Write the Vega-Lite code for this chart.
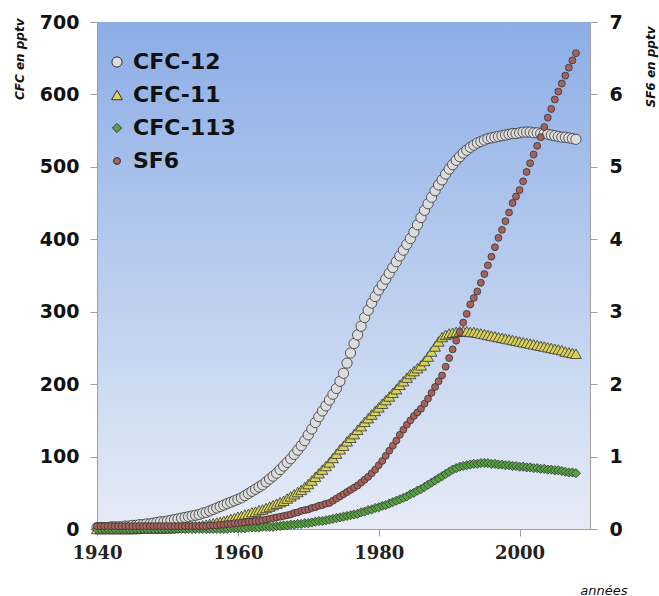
{
"$schema":"https://vega.github.io/schema/vega-lite/v6.json",
"width":493,"height":507,
"autosize":{"type":"none"},
"padding":{"left":97,"top":22,"right":69,"bottom":67},
"background":"white",
"config":{
 "view":{"stroke":null,"fill":{"gradient":"linear","x1":0,"y1":0,"x2":0,"y2":1,"stops":[{"offset":0,"color":"#8cade6"},{"offset":1,"color":"#e6ecf6"}]}},
 "axis":{"grid":false,"domainColor":"#a0a0a0","tickColor":"#a0a0a0","labelColor":"#111"}
},
"datasets":{"d":[
{"t":1940,"s":"CFC-12","v":2},{"t":1940.5,"s":"CFC-12","v":2},{"t":1941,"s":"CFC-12","v":2},{"t":1941.5,"s":"CFC-12","v":2},{"t":1942,"s":"CFC-12","v":3},{"t":1942.5,"s":"CFC-12","v":3},{"t":1943,"s":"CFC-12","v":3},{"t":1943.5,"s":"CFC-12","v":3},{"t":1944,"s":"CFC-12","v":4},{"t":1944.5,"s":"CFC-12","v":4},
{"t":1945,"s":"CFC-12","v":5},{"t":1945.5,"s":"CFC-12","v":5},{"t":1946,"s":"CFC-12","v":6},{"t":1946.5,"s":"CFC-12","v":6},{"t":1947,"s":"CFC-12","v":7},{"t":1947.5,"s":"CFC-12","v":7},{"t":1948,"s":"CFC-12","v":8},{"t":1948.5,"s":"CFC-12","v":9},{"t":1949,"s":"CFC-12","v":10},{"t":1949.5,"s":"CFC-12","v":10},
{"t":1950,"s":"CFC-12","v":11},{"t":1950.5,"s":"CFC-12","v":12},{"t":1951,"s":"CFC-12","v":13},{"t":1951.5,"s":"CFC-12","v":14},{"t":1952,"s":"CFC-12","v":15},{"t":1952.5,"s":"CFC-12","v":16},{"t":1953,"s":"CFC-12","v":17},{"t":1953.5,"s":"CFC-12","v":18},{"t":1954,"s":"CFC-12","v":19},{"t":1954.5,"s":"CFC-12","v":20},
{"t":1955,"s":"CFC-12","v":22},{"t":1955.5,"s":"CFC-12","v":23},{"t":1956,"s":"CFC-12","v":25},{"t":1956.5,"s":"CFC-12","v":27},{"t":1957,"s":"CFC-12","v":29},{"t":1957.5,"s":"CFC-12","v":31},{"t":1958,"s":"CFC-12","v":33},{"t":1958.5,"s":"CFC-12","v":35},{"t":1959,"s":"CFC-12","v":37},{"t":1959.5,"s":"CFC-12","v":39},
{"t":1960,"s":"CFC-12","v":41},{"t":1960.5,"s":"CFC-12","v":43},{"t":1961,"s":"CFC-12","v":46},{"t":1961.5,"s":"CFC-12","v":49},{"t":1962,"s":"CFC-12","v":52},{"t":1962.5,"s":"CFC-12","v":55},{"t":1963,"s":"CFC-12","v":58},{"t":1963.5,"s":"CFC-12","v":61},{"t":1964,"s":"CFC-12","v":65},{"t":1964.5,"s":"CFC-12","v":69},
{"t":1965,"s":"CFC-12","v":73},{"t":1965.5,"s":"CFC-12","v":77},{"t":1966,"s":"CFC-12","v":82},{"t":1966.5,"s":"CFC-12","v":87},{"t":1967,"s":"CFC-12","v":92},{"t":1967.5,"s":"CFC-12","v":97},{"t":1968,"s":"CFC-12","v":103},{"t":1968.5,"s":"CFC-12","v":109},{"t":1969,"s":"CFC-12","v":115},{"t":1969.5,"s":"CFC-12","v":122},
{"t":1970,"s":"CFC-12","v":130},{"t":1970.5,"s":"CFC-12","v":138},{"t":1971,"s":"CFC-12","v":147},{"t":1971.5,"s":"CFC-12","v":155},{"t":1972,"s":"CFC-12","v":163},{"t":1972.5,"s":"CFC-12","v":170},{"t":1973,"s":"CFC-12","v":178},{"t":1973.5,"s":"CFC-12","v":186},{"t":1974,"s":"CFC-12","v":194},{"t":1974.5,"s":"CFC-12","v":204},
{"t":1975,"s":"CFC-12","v":215},{"t":1975.5,"s":"CFC-12","v":229},{"t":1976,"s":"CFC-12","v":243},{"t":1976.5,"s":"CFC-12","v":256},{"t":1977,"s":"CFC-12","v":268},{"t":1977.5,"s":"CFC-12","v":280},{"t":1978,"s":"CFC-12","v":292},{"t":1978.5,"s":"CFC-12","v":302},{"t":1979,"s":"CFC-12","v":312},{"t":1979.5,"s":"CFC-12","v":321},
{"t":1980,"s":"CFC-12","v":330},{"t":1980.5,"s":"CFC-12","v":337},{"t":1981,"s":"CFC-12","v":345},{"t":1981.5,"s":"CFC-12","v":353},{"t":1982,"s":"CFC-12","v":361},{"t":1982.5,"s":"CFC-12","v":369},{"t":1983,"s":"CFC-12","v":377},{"t":1983.5,"s":"CFC-12","v":385},{"t":1984,"s":"CFC-12","v":393},{"t":1984.5,"s":"CFC-12","v":401},
{"t":1985,"s":"CFC-12","v":410},{"t":1985.5,"s":"CFC-12","v":420},{"t":1986,"s":"CFC-12","v":430},{"t":1986.5,"s":"CFC-12","v":440},{"t":1987,"s":"CFC-12","v":449},{"t":1987.5,"s":"CFC-12","v":458},{"t":1988,"s":"CFC-12","v":467},{"t":1988.5,"s":"CFC-12","v":475},{"t":1989,"s":"CFC-12","v":482},{"t":1989.5,"s":"CFC-12","v":490},
{"t":1990,"s":"CFC-12","v":497},{"t":1990.5,"s":"CFC-12","v":503},{"t":1991,"s":"CFC-12","v":509},{"t":1991.5,"s":"CFC-12","v":514},{"t":1992,"s":"CFC-12","v":519},{"t":1992.5,"s":"CFC-12","v":523},{"t":1993,"s":"CFC-12","v":527},{"t":1993.5,"s":"CFC-12","v":530},{"t":1994,"s":"CFC-12","v":533},{"t":1994.5,"s":"CFC-12","v":535},
{"t":1995,"s":"CFC-12","v":537},{"t":1995.5,"s":"CFC-12","v":539},{"t":1996,"s":"CFC-12","v":540},{"t":1996.5,"s":"CFC-12","v":541},{"t":1997,"s":"CFC-12","v":542},{"t":1997.5,"s":"CFC-12","v":543},{"t":1998,"s":"CFC-12","v":544},{"t":1998.5,"s":"CFC-12","v":545},{"t":1999,"s":"CFC-12","v":546},{"t":1999.5,"s":"CFC-12","v":546},
{"t":2000,"s":"CFC-12","v":547},{"t":2000.5,"s":"CFC-12","v":548},{"t":2001,"s":"CFC-12","v":548},{"t":2001.5,"s":"CFC-12","v":548},{"t":2002,"s":"CFC-12","v":547},{"t":2002.5,"s":"CFC-12","v":547},{"t":2003,"s":"CFC-12","v":546},{"t":2003.5,"s":"CFC-12","v":546},{"t":2004,"s":"CFC-12","v":545},{"t":2004.5,"s":"CFC-12","v":544},
{"t":2005,"s":"CFC-12","v":543},{"t":2005.5,"s":"CFC-12","v":542},{"t":2006,"s":"CFC-12","v":541},{"t":2006.5,"s":"CFC-12","v":541},{"t":2007,"s":"CFC-12","v":540},{"t":2007.5,"s":"CFC-12","v":539},{"t":2008,"s":"CFC-12","v":538},
{"t":1940,"s":"CFC-11","v":0},{"t":1940.5,"s":"CFC-11","v":0},{"t":1941,"s":"CFC-11","v":0},{"t":1941.5,"s":"CFC-11","v":0},{"t":1942,"s":"CFC-11","v":0},{"t":1942.5,"s":"CFC-11","v":0},{"t":1943,"s":"CFC-11","v":0},{"t":1943.5,"s":"CFC-11","v":0},{"t":1944,"s":"CFC-11","v":0},{"t":1944.5,"s":"CFC-11","v":0},
{"t":1945,"s":"CFC-11","v":0},{"t":1945.5,"s":"CFC-11","v":0},{"t":1946,"s":"CFC-11","v":1},{"t":1946.5,"s":"CFC-11","v":1},{"t":1947,"s":"CFC-11","v":1},{"t":1947.5,"s":"CFC-11","v":1},{"t":1948,"s":"CFC-11","v":1},{"t":1948.5,"s":"CFC-11","v":1},{"t":1949,"s":"CFC-11","v":1},{"t":1949.5,"s":"CFC-11","v":1},
{"t":1950,"s":"CFC-11","v":1},{"t":1950.5,"s":"CFC-11","v":1},{"t":1951,"s":"CFC-11","v":2},{"t":1951.5,"s":"CFC-11","v":2},{"t":1952,"s":"CFC-11","v":2},{"t":1952.5,"s":"CFC-11","v":3},{"t":1953,"s":"CFC-11","v":3},{"t":1953.5,"s":"CFC-11","v":3},{"t":1954,"s":"CFC-11","v":4},{"t":1954.5,"s":"CFC-11","v":4},
{"t":1955,"s":"CFC-11","v":5},{"t":1955.5,"s":"CFC-11","v":6},{"t":1956,"s":"CFC-11","v":7},{"t":1956.5,"s":"CFC-11","v":8},{"t":1957,"s":"CFC-11","v":9},{"t":1957.5,"s":"CFC-11","v":10},{"t":1958,"s":"CFC-11","v":11},{"t":1958.5,"s":"CFC-11","v":12},{"t":1959,"s":"CFC-11","v":14},{"t":1959.5,"s":"CFC-11","v":15},
{"t":1960,"s":"CFC-11","v":17},{"t":1960.5,"s":"CFC-11","v":18},{"t":1961,"s":"CFC-11","v":20},{"t":1961.5,"s":"CFC-11","v":21},{"t":1962,"s":"CFC-11","v":23},{"t":1962.5,"s":"CFC-11","v":24},{"t":1963,"s":"CFC-11","v":26},{"t":1963.5,"s":"CFC-11","v":27},{"t":1964,"s":"CFC-11","v":29},{"t":1964.5,"s":"CFC-11","v":31},
{"t":1965,"s":"CFC-11","v":33},{"t":1965.5,"s":"CFC-11","v":35},{"t":1966,"s":"CFC-11","v":37},{"t":1966.5,"s":"CFC-11","v":39},{"t":1967,"s":"CFC-11","v":42},{"t":1967.5,"s":"CFC-11","v":45},{"t":1968,"s":"CFC-11","v":48},{"t":1968.5,"s":"CFC-11","v":51},{"t":1969,"s":"CFC-11","v":54},{"t":1969.5,"s":"CFC-11","v":58},
{"t":1970,"s":"CFC-11","v":62},{"t":1970.5,"s":"CFC-11","v":67},{"t":1971,"s":"CFC-11","v":72},{"t":1971.5,"s":"CFC-11","v":77},{"t":1972,"s":"CFC-11","v":82},{"t":1972.5,"s":"CFC-11","v":87},{"t":1973,"s":"CFC-11","v":92},{"t":1973.5,"s":"CFC-11","v":98},{"t":1974,"s":"CFC-11","v":104},{"t":1974.5,"s":"CFC-11","v":110},
{"t":1975,"s":"CFC-11","v":115},{"t":1975.5,"s":"CFC-11","v":121},{"t":1976,"s":"CFC-11","v":126},{"t":1976.5,"s":"CFC-11","v":131},{"t":1977,"s":"CFC-11","v":137},{"t":1977.5,"s":"CFC-11","v":142},{"t":1978,"s":"CFC-11","v":148},{"t":1978.5,"s":"CFC-11","v":153},{"t":1979,"s":"CFC-11","v":158},{"t":1979.5,"s":"CFC-11","v":163},
{"t":1980,"s":"CFC-11","v":168},{"t":1980.5,"s":"CFC-11","v":173},{"t":1981,"s":"CFC-11","v":178},{"t":1981.5,"s":"CFC-11","v":183},{"t":1982,"s":"CFC-11","v":188},{"t":1982.5,"s":"CFC-11","v":193},{"t":1983,"s":"CFC-11","v":199},{"t":1983.5,"s":"CFC-11","v":204},{"t":1984,"s":"CFC-11","v":209},{"t":1984.5,"s":"CFC-11","v":214},
{"t":1985,"s":"CFC-11","v":218},{"t":1985.5,"s":"CFC-11","v":222},{"t":1986,"s":"CFC-11","v":226},{"t":1986.5,"s":"CFC-11","v":232},{"t":1987,"s":"CFC-11","v":238},{"t":1987.5,"s":"CFC-11","v":245},{"t":1988,"s":"CFC-11","v":252},{"t":1988.5,"s":"CFC-11","v":259},{"t":1989,"s":"CFC-11","v":265},{"t":1989.5,"s":"CFC-11","v":268},
{"t":1990,"s":"CFC-11","v":270},{"t":1990.5,"s":"CFC-11","v":271},{"t":1991,"s":"CFC-11","v":272},{"t":1991.5,"s":"CFC-11","v":273},{"t":1992,"s":"CFC-11","v":273},{"t":1992.5,"s":"CFC-11","v":273},{"t":1993,"s":"CFC-11","v":272},{"t":1993.5,"s":"CFC-11","v":272},{"t":1994,"s":"CFC-11","v":271},{"t":1994.5,"s":"CFC-11","v":270},
{"t":1995,"s":"CFC-11","v":269},{"t":1995.5,"s":"CFC-11","v":268},{"t":1996,"s":"CFC-11","v":267},{"t":1996.5,"s":"CFC-11","v":266},{"t":1997,"s":"CFC-11","v":265},{"t":1997.5,"s":"CFC-11","v":264},{"t":1998,"s":"CFC-11","v":263},{"t":1998.5,"s":"CFC-11","v":262},{"t":1999,"s":"CFC-11","v":261},{"t":1999.5,"s":"CFC-11","v":260},
{"t":2000,"s":"CFC-11","v":259},{"t":2000.5,"s":"CFC-11","v":258},{"t":2001,"s":"CFC-11","v":257},{"t":2001.5,"s":"CFC-11","v":256},{"t":2002,"s":"CFC-11","v":255},{"t":2002.5,"s":"CFC-11","v":254},{"t":2003,"s":"CFC-11","v":253},{"t":2003.5,"s":"CFC-11","v":252},{"t":2004,"s":"CFC-11","v":251},{"t":2004.5,"s":"CFC-11","v":250},
{"t":2005,"s":"CFC-11","v":249},{"t":2005.5,"s":"CFC-11","v":248},{"t":2006,"s":"CFC-11","v":247},{"t":2006.5,"s":"CFC-11","v":245},{"t":2007,"s":"CFC-11","v":244},{"t":2007.5,"s":"CFC-11","v":243},{"t":2008,"s":"CFC-11","v":242},
{"t":1940,"s":"CFC-113","v":0},{"t":1940.5,"s":"CFC-113","v":0},{"t":1941,"s":"CFC-113","v":0},{"t":1941.5,"s":"CFC-113","v":0},{"t":1942,"s":"CFC-113","v":0},{"t":1942.5,"s":"CFC-113","v":0},{"t":1943,"s":"CFC-113","v":0},{"t":1943.5,"s":"CFC-113","v":0},{"t":1944,"s":"CFC-113","v":0},{"t":1944.5,"s":"CFC-113","v":0},
{"t":1945,"s":"CFC-113","v":0},{"t":1945.5,"s":"CFC-113","v":0},{"t":1946,"s":"CFC-113","v":0},{"t":1946.5,"s":"CFC-113","v":0},{"t":1947,"s":"CFC-113","v":0},{"t":1947.5,"s":"CFC-113","v":0},{"t":1948,"s":"CFC-113","v":0},{"t":1948.5,"s":"CFC-113","v":0},{"t":1949,"s":"CFC-113","v":0},{"t":1949.5,"s":"CFC-113","v":0},
{"t":1950,"s":"CFC-113","v":0},{"t":1950.5,"s":"CFC-113","v":0},{"t":1951,"s":"CFC-113","v":0},{"t":1951.5,"s":"CFC-113","v":0},{"t":1952,"s":"CFC-113","v":0},{"t":1952.5,"s":"CFC-113","v":0},{"t":1953,"s":"CFC-113","v":0},{"t":1953.5,"s":"CFC-113","v":0},{"t":1954,"s":"CFC-113","v":0},{"t":1954.5,"s":"CFC-113","v":0},
{"t":1955,"s":"CFC-113","v":0},{"t":1955.5,"s":"CFC-113","v":0},{"t":1956,"s":"CFC-113","v":0},{"t":1956.5,"s":"CFC-113","v":0},{"t":1957,"s":"CFC-113","v":0},{"t":1957.5,"s":"CFC-113","v":0},{"t":1958,"s":"CFC-113","v":0},{"t":1958.5,"s":"CFC-113","v":0},{"t":1959,"s":"CFC-113","v":1},{"t":1959.5,"s":"CFC-113","v":1},
{"t":1960,"s":"CFC-113","v":1},{"t":1960.5,"s":"CFC-113","v":1},{"t":1961,"s":"CFC-113","v":1},{"t":1961.5,"s":"CFC-113","v":2},{"t":1962,"s":"CFC-113","v":2},{"t":1962.5,"s":"CFC-113","v":2},{"t":1963,"s":"CFC-113","v":2},{"t":1963.5,"s":"CFC-113","v":3},{"t":1964,"s":"CFC-113","v":3},{"t":1964.5,"s":"CFC-113","v":3},
{"t":1965,"s":"CFC-113","v":3},{"t":1965.5,"s":"CFC-113","v":4},{"t":1966,"s":"CFC-113","v":4},{"t":1966.5,"s":"CFC-113","v":5},{"t":1967,"s":"CFC-113","v":5},{"t":1967.5,"s":"CFC-113","v":6},{"t":1968,"s":"CFC-113","v":6},{"t":1968.5,"s":"CFC-113","v":7},{"t":1969,"s":"CFC-113","v":7},{"t":1969.5,"s":"CFC-113","v":8},
{"t":1970,"s":"CFC-113","v":8},{"t":1970.5,"s":"CFC-113","v":9},{"t":1971,"s":"CFC-113","v":10},{"t":1971.5,"s":"CFC-113","v":11},{"t":1972,"s":"CFC-113","v":11},{"t":1972.5,"s":"CFC-113","v":12},{"t":1973,"s":"CFC-113","v":13},{"t":1973.5,"s":"CFC-113","v":14},{"t":1974,"s":"CFC-113","v":15},{"t":1974.5,"s":"CFC-113","v":16},
{"t":1975,"s":"CFC-113","v":17},{"t":1975.5,"s":"CFC-113","v":18},{"t":1976,"s":"CFC-113","v":19},{"t":1976.5,"s":"CFC-113","v":20},{"t":1977,"s":"CFC-113","v":21},{"t":1977.5,"s":"CFC-113","v":23},{"t":1978,"s":"CFC-113","v":24},{"t":1978.5,"s":"CFC-113","v":26},{"t":1979,"s":"CFC-113","v":27},{"t":1979.5,"s":"CFC-113","v":29},
{"t":1980,"s":"CFC-113","v":30},{"t":1980.5,"s":"CFC-113","v":32},{"t":1981,"s":"CFC-113","v":33},{"t":1981.5,"s":"CFC-113","v":35},{"t":1982,"s":"CFC-113","v":37},{"t":1982.5,"s":"CFC-113","v":39},{"t":1983,"s":"CFC-113","v":41},{"t":1983.5,"s":"CFC-113","v":43},{"t":1984,"s":"CFC-113","v":45},{"t":1984.5,"s":"CFC-113","v":48},
{"t":1985,"s":"CFC-113","v":50},{"t":1985.5,"s":"CFC-113","v":53},{"t":1986,"s":"CFC-113","v":55},{"t":1986.5,"s":"CFC-113","v":58},{"t":1987,"s":"CFC-113","v":61},{"t":1987.5,"s":"CFC-113","v":64},{"t":1988,"s":"CFC-113","v":67},{"t":1988.5,"s":"CFC-113","v":70},{"t":1989,"s":"CFC-113","v":73},{"t":1989.5,"s":"CFC-113","v":76},
{"t":1990,"s":"CFC-113","v":79},{"t":1990.5,"s":"CFC-113","v":82},{"t":1991,"s":"CFC-113","v":84},{"t":1991.5,"s":"CFC-113","v":86},{"t":1992,"s":"CFC-113","v":87},{"t":1992.5,"s":"CFC-113","v":88},{"t":1993,"s":"CFC-113","v":89},{"t":1993.5,"s":"CFC-113","v":90},{"t":1994,"s":"CFC-113","v":90},{"t":1994.5,"s":"CFC-113","v":91},
{"t":1995,"s":"CFC-113","v":91},{"t":1995.5,"s":"CFC-113","v":91},{"t":1996,"s":"CFC-113","v":90},{"t":1996.5,"s":"CFC-113","v":90},{"t":1997,"s":"CFC-113","v":89},{"t":1997.5,"s":"CFC-113","v":89},{"t":1998,"s":"CFC-113","v":88},{"t":1998.5,"s":"CFC-113","v":88},{"t":1999,"s":"CFC-113","v":87},{"t":1999.5,"s":"CFC-113","v":87},
{"t":2000,"s":"CFC-113","v":86},{"t":2000.5,"s":"CFC-113","v":86},{"t":2001,"s":"CFC-113","v":85},{"t":2001.5,"s":"CFC-113","v":85},{"t":2002,"s":"CFC-113","v":84},{"t":2002.5,"s":"CFC-113","v":84},{"t":2003,"s":"CFC-113","v":83},{"t":2003.5,"s":"CFC-113","v":83},{"t":2004,"s":"CFC-113","v":82},{"t":2004.5,"s":"CFC-113","v":82},
{"t":2005,"s":"CFC-113","v":81},{"t":2005.5,"s":"CFC-113","v":81},{"t":2006,"s":"CFC-113","v":80},{"t":2006.5,"s":"CFC-113","v":79},{"t":2007,"s":"CFC-113","v":78},{"t":2007.5,"s":"CFC-113","v":78},{"t":2008,"s":"CFC-113","v":77},
{"t":1940,"s":"SF6","v":0.04},{"t":1940.5,"s":"SF6","v":0.04},{"t":1941,"s":"SF6","v":0.04},{"t":1941.5,"s":"SF6","v":0.04},{"t":1942,"s":"SF6","v":0.04},{"t":1942.5,"s":"SF6","v":0.04},{"t":1943,"s":"SF6","v":0.04},{"t":1943.5,"s":"SF6","v":0.04},{"t":1944,"s":"SF6","v":0.04},{"t":1944.5,"s":"SF6","v":0.04},
{"t":1945,"s":"SF6","v":0.04},{"t":1945.5,"s":"SF6","v":0.04},{"t":1946,"s":"SF6","v":0.04},{"t":1946.5,"s":"SF6","v":0.04},{"t":1947,"s":"SF6","v":0.04},{"t":1947.5,"s":"SF6","v":0.04},{"t":1948,"s":"SF6","v":0.04},{"t":1948.5,"s":"SF6","v":0.04},{"t":1949,"s":"SF6","v":0.04},{"t":1949.5,"s":"SF6","v":0.04},
{"t":1950,"s":"SF6","v":0.04},{"t":1950.5,"s":"SF6","v":0.04},{"t":1951,"s":"SF6","v":0.04},{"t":1951.5,"s":"SF6","v":0.04},{"t":1952,"s":"SF6","v":0.04},{"t":1952.5,"s":"SF6","v":0.04},{"t":1953,"s":"SF6","v":0.04},{"t":1953.5,"s":"SF6","v":0.04},{"t":1954,"s":"SF6","v":0.04},{"t":1954.5,"s":"SF6","v":0.04},
{"t":1955,"s":"SF6","v":0.04},{"t":1955.5,"s":"SF6","v":0.04},{"t":1956,"s":"SF6","v":0.05},{"t":1956.5,"s":"SF6","v":0.05},{"t":1957,"s":"SF6","v":0.05},{"t":1957.5,"s":"SF6","v":0.06},{"t":1958,"s":"SF6","v":0.06},{"t":1958.5,"s":"SF6","v":0.07},{"t":1959,"s":"SF6","v":0.07},{"t":1959.5,"s":"SF6","v":0.08},
{"t":1960,"s":"SF6","v":0.08},{"t":1960.5,"s":"SF6","v":0.09},{"t":1961,"s":"SF6","v":0.09},{"t":1961.5,"s":"SF6","v":0.1},{"t":1962,"s":"SF6","v":0.1},{"t":1962.5,"s":"SF6","v":0.11},{"t":1963,"s":"SF6","v":0.11},{"t":1963.5,"s":"SF6","v":0.12},{"t":1964,"s":"SF6","v":0.13},{"t":1964.5,"s":"SF6","v":0.14},
{"t":1965,"s":"SF6","v":0.15},{"t":1965.5,"s":"SF6","v":0.16},{"t":1966,"s":"SF6","v":0.17},{"t":1966.5,"s":"SF6","v":0.18},{"t":1967,"s":"SF6","v":0.19},{"t":1967.5,"s":"SF6","v":0.2},{"t":1968,"s":"SF6","v":0.22},{"t":1968.5,"s":"SF6","v":0.23},{"t":1969,"s":"SF6","v":0.25},{"t":1969.5,"s":"SF6","v":0.26},
{"t":1970,"s":"SF6","v":0.27},{"t":1970.5,"s":"SF6","v":0.29},{"t":1971,"s":"SF6","v":0.3},{"t":1971.5,"s":"SF6","v":0.32},{"t":1972,"s":"SF6","v":0.33},{"t":1972.5,"s":"SF6","v":0.35},{"t":1973,"s":"SF6","v":0.36},{"t":1973.5,"s":"SF6","v":0.39},{"t":1974,"s":"SF6","v":0.42},{"t":1974.5,"s":"SF6","v":0.45},
{"t":1975,"s":"SF6","v":0.48},{"t":1975.5,"s":"SF6","v":0.51},{"t":1976,"s":"SF6","v":0.54},{"t":1976.5,"s":"SF6","v":0.57},{"t":1977,"s":"SF6","v":0.6},{"t":1977.5,"s":"SF6","v":0.64},{"t":1978,"s":"SF6","v":0.68},{"t":1978.5,"s":"SF6","v":0.72},{"t":1979,"s":"SF6","v":0.77},{"t":1979.5,"s":"SF6","v":0.82},
{"t":1980,"s":"SF6","v":0.88},{"t":1980.5,"s":"SF6","v":0.94},{"t":1981,"s":"SF6","v":1.01},{"t":1981.5,"s":"SF6","v":1.08},{"t":1982,"s":"SF6","v":1.15},{"t":1982.5,"s":"SF6","v":1.22},{"t":1983,"s":"SF6","v":1.3},{"t":1983.5,"s":"SF6","v":1.37},{"t":1984,"s":"SF6","v":1.44},{"t":1984.5,"s":"SF6","v":1.5},
{"t":1985,"s":"SF6","v":1.56},{"t":1985.5,"s":"SF6","v":1.61},{"t":1986,"s":"SF6","v":1.66},{"t":1986.5,"s":"SF6","v":1.73},{"t":1987,"s":"SF6","v":1.8},{"t":1987.5,"s":"SF6","v":1.88},{"t":1988,"s":"SF6","v":1.96},{"t":1988.5,"s":"SF6","v":2.04},{"t":1989,"s":"SF6","v":2.12},{"t":1989.5,"s":"SF6","v":2.24},
{"t":1990,"s":"SF6","v":2.36},{"t":1990.5,"s":"SF6","v":2.48},{"t":1991,"s":"SF6","v":2.6},{"t":1991.5,"s":"SF6","v":2.72},{"t":1992,"s":"SF6","v":2.85},{"t":1992.5,"s":"SF6","v":2.97},{"t":1993,"s":"SF6","v":3.1},{"t":1993.5,"s":"SF6","v":3.19},{"t":1994,"s":"SF6","v":3.28},{"t":1994.5,"s":"SF6","v":3.4},
{"t":1995,"s":"SF6","v":3.52},{"t":1995.5,"s":"SF6","v":3.64},{"t":1996,"s":"SF6","v":3.76},{"t":1996.5,"s":"SF6","v":3.89},{"t":1997,"s":"SF6","v":4.02},{"t":1997.5,"s":"SF6","v":4.13},{"t":1998,"s":"SF6","v":4.25},{"t":1998.5,"s":"SF6","v":4.37},{"t":1999,"s":"SF6","v":4.5},{"t":1999.5,"s":"SF6","v":4.59},
{"t":2000,"s":"SF6","v":4.68},{"t":2000.5,"s":"SF6","v":4.8},{"t":2001,"s":"SF6","v":4.93},{"t":2001.5,"s":"SF6","v":5.05},{"t":2002,"s":"SF6","v":5.17},{"t":2002.5,"s":"SF6","v":5.29},{"t":2003,"s":"SF6","v":5.41},{"t":2003.5,"s":"SF6","v":5.55},{"t":2004,"s":"SF6","v":5.68},{"t":2004.5,"s":"SF6","v":5.8},
{"t":2005,"s":"SF6","v":5.93},{"t":2005.5,"s":"SF6","v":6.04},{"t":2006,"s":"SF6","v":6.15},{"t":2006.5,"s":"SF6","v":6.26},{"t":2007,"s":"SF6","v":6.37},{"t":2007.5,"s":"SF6","v":6.47},{"t":2008,"s":"SF6","v":6.57}
]},
"data":{"name":"d"},
"encoding":{
 "x":{"field":"t","type":"quantitative","scale":{"domain":[1940,2010],"nice":false,"zero":false},
  "axis":{"values":[1940,1960,1980,2000],"format":"d","labelFlush":false,"labelFont":"DejaVu Serif","labelFontWeight":"bold","labelFontSize":18,"labelColor":"#222","tickSize":7,"labelPadding":8,
   "title":"années","titleFont":"DejaVu Sans","titleFontStyle":"italic","titleFontWeight":"normal","titleFontSize":13,"titleColor":"#111","titleAlign":"right","titleBaseline":"alphabetic","titleX":530,"titleY":65}},
 "color":{"field":"s","type":"nominal","scale":{"domain":["CFC-12","CFC-11","CFC-113","SF6"],"range":["#dcdcdc","#d8d25a","#57a043","#a8615a"]},
  "legend":{"title":null,"orient":"none","legendX":9,"legendY":29,"labelFont":"DejaVu Sans","labelFontWeight":"bold","labelFontSize":22,"labelColor":"#111","symbolSize":100,"rowPadding":11,"labelOffset":5,"symbolStrokeColor":"#333","symbolStrokeWidth":1}},
 "shape":{"field":"s","type":"nominal","scale":{"domain":["CFC-12","CFC-11","CFC-113","SF6"],"range":["circle","triangle-up","diamond","circle"]},
  "legend":{"title":null,"orient":"none","legendX":9,"legendY":29,"labelFont":"DejaVu Sans","labelFontWeight":"bold","labelFontSize":22,"labelColor":"#111","symbolSize":100,"rowPadding":11,"labelOffset":5,"symbolStrokeColor":"#333","symbolStrokeWidth":1}},
 "size":{"field":"s","type":"nominal","scale":{"type":"ordinal","domain":["CFC-12","CFC-11","CFC-113","SF6"],"range":[105,120,85,48]},"legend":null}
},
"layer":[
 {"transform":[{"filter":"datum.s !== 'SF6'"}],
  "mark":{"type":"point","filled":true,"opacity":1,"stroke":"#333","strokeWidth":0.8},
  "encoding":{"y":{"field":"v","type":"quantitative","scale":{"domain":[0,700],"nice":false},
   "axis":{"values":[0,100,200,300,400,500,600,700],"labelFont":"DejaVu Sans","labelFontWeight":"bold","labelFontSize":19,"tickSize":7,"labelPadding":11,
    "title":"CFC en pptv","titleFont":"DejaVu Sans","titleFontStyle":"italic","titleFontWeight":"bold","titleFontSize":12,"titleColor":"#111","titleAngle":270,"titleAlign":"right","titleBaseline":"middle","titleX":-78,"titleY":-4}}}},
 {"transform":[{"filter":"datum.s === 'SF6'"}],
  "mark":{"type":"point","filled":true,"opacity":1,"stroke":"#333","strokeWidth":0.8},
  "encoding":{"y":{"field":"v","type":"quantitative","scale":{"domain":[0,7],"nice":false},
   "axis":{"orient":"right","values":[0,1,2,3,4,5,6,7],"labelFont":"DejaVu Sans","labelFontWeight":"bold","labelFontSize":19,"tickSize":7,"labelPadding":12,
    "title":"SF6 en pptv","titleFont":"DejaVu Sans","titleFontStyle":"italic","titleFontWeight":"bold","titleFontSize":12,"titleColor":"#111","titleAngle":270,"titleAlign":"right","titleBaseline":"middle","titleX":60,"titleY":4}}}}
],
"resolve":{"scale":{"y":"independent"}}
}
